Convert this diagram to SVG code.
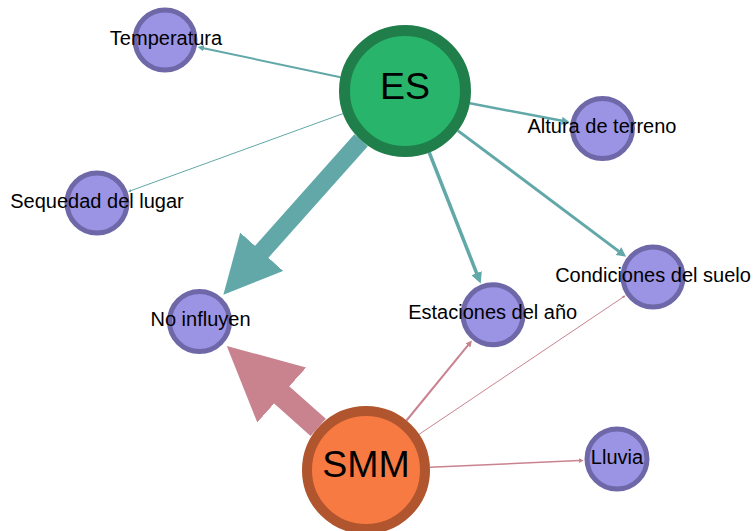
<svg xmlns="http://www.w3.org/2000/svg" width="754" height="531" viewBox="0 0 754 531">
<style>
.bg{fill:#ffffff}
.e{fill:none;stroke-linecap:butt}
.t{stroke:#62a8a9}
.p{stroke:#c9838f}
.n{fill:#9b93e4;stroke:#6e68a8;stroke-width:5}
.es{fill:#28b46b;stroke:#1f7e4a;stroke-width:11}
.smm{fill:#f77a43;stroke:#b0552d;stroke-width:10}
.lbl{font-family:"Liberation Sans",Arial,sans-serif;font-size:20px;fill:#000;text-anchor:middle}
.big{font-family:"Liberation Sans",Arial,sans-serif;font-size:37.5px;fill:#000;text-anchor:middle}
</style>
<defs>
<marker id="at" viewBox="0 0 10 10" refX="0.5" refY="5" markerWidth="3.2" markerHeight="3.2" orient="auto" markerUnits="strokeWidth"><path d="M0,0 L10,5 L0,10 z" fill="#62a8a9"/></marker>
<marker id="ap" viewBox="0 0 10 10" refX="0.5" refY="5" markerWidth="3.2" markerHeight="3.2" orient="auto" markerUnits="strokeWidth"><path d="M0,0 L10,5 L0,10 z" fill="#c9838f"/></marker>
</defs>
<rect class="bg" x="0" y="0" width="754" height="531"/>
<g id="edges">
<line class="e t" x1="340.5" y1="77.3" x2="203.6" y2="48.2" stroke-width="2" marker-end="url(#at)"/>
<line class="e t" x1="343" y1="113.6" x2="131" y2="190.6" stroke-width="1" marker-end="url(#at)"/>
<line class="e t" x1="361.1" y1="140.3" x2="259.8" y2="253.9" stroke-width="18" marker-end="url(#at)"/>
<line class="e t" x1="469.9" y1="103.3" x2="562.2" y2="120.8" stroke-width="2.5" marker-end="url(#at)"/>
<line class="e t" x1="429.2" y1="152.4" x2="476.8" y2="273.6" stroke-width="3.5" marker-end="url(#at)"/>
<line class="e t" x1="457.8" y1="130.6" x2="618.9" y2="251.4" stroke-width="3" marker-end="url(#at)"/>
<line class="e p" x1="318.2" y1="427.4" x2="279" y2="392.5" stroke-width="23" marker-end="url(#ap)"/>
<line class="e p" x1="406.5" y1="420.5" x2="468.1" y2="345.2" stroke-width="2" marker-end="url(#ap)"/>
<line class="e p" x1="419.1" y1="434.3" x2="623" y2="297.2" stroke-width="1" marker-end="url(#ap)"/>
<line class="e p" x1="429.9" y1="467.2" x2="579.2" y2="460.6" stroke-width="1.5" marker-end="url(#ap)"/>
</g>
<g id="node-temperatura"><circle class="n" cx="165" cy="40" r="30"/><text class="lbl" x="166" y="45">Temperatura</text></g>
<g id="node-altura"><circle class="n" cx="602.5" cy="128.5" r="30"/><text class="lbl" x="602" y="132.5">Altura de terreno</text></g>
<g id="node-sequedad"><circle class="n" cx="97" cy="203" r="30"/><text class="lbl" x="97" y="207.5">Sequedad del lugar</text></g>
<g id="node-condiciones"><circle class="n" cx="653" cy="277" r="30"/><text class="lbl" x="653" y="281.5">Condiciones del suelo</text></g>
<g id="node-noinfluyen"><circle class="n" cx="199.5" cy="321.5" r="30"/><text class="lbl" x="200.5" y="325.5">No influyen</text></g>
<g id="node-estaciones"><circle class="n" cx="493" cy="314.7" r="30"/><text class="lbl" x="492.7" y="319">Estaciones del año</text></g>
<g id="node-lluvia"><circle class="n" cx="617" cy="459" r="30"/><text class="lbl" x="617" y="463.5">Lluvia</text></g>
<g id="node-es"><circle class="es" cx="405" cy="91" r="60.5"/><text class="big" x="405" y="99">ES</text></g>
<g id="node-smm"><circle class="smm" cx="366" cy="470" r="59"/><text class="big" x="366" y="477">SMM</text></g>
</svg>
